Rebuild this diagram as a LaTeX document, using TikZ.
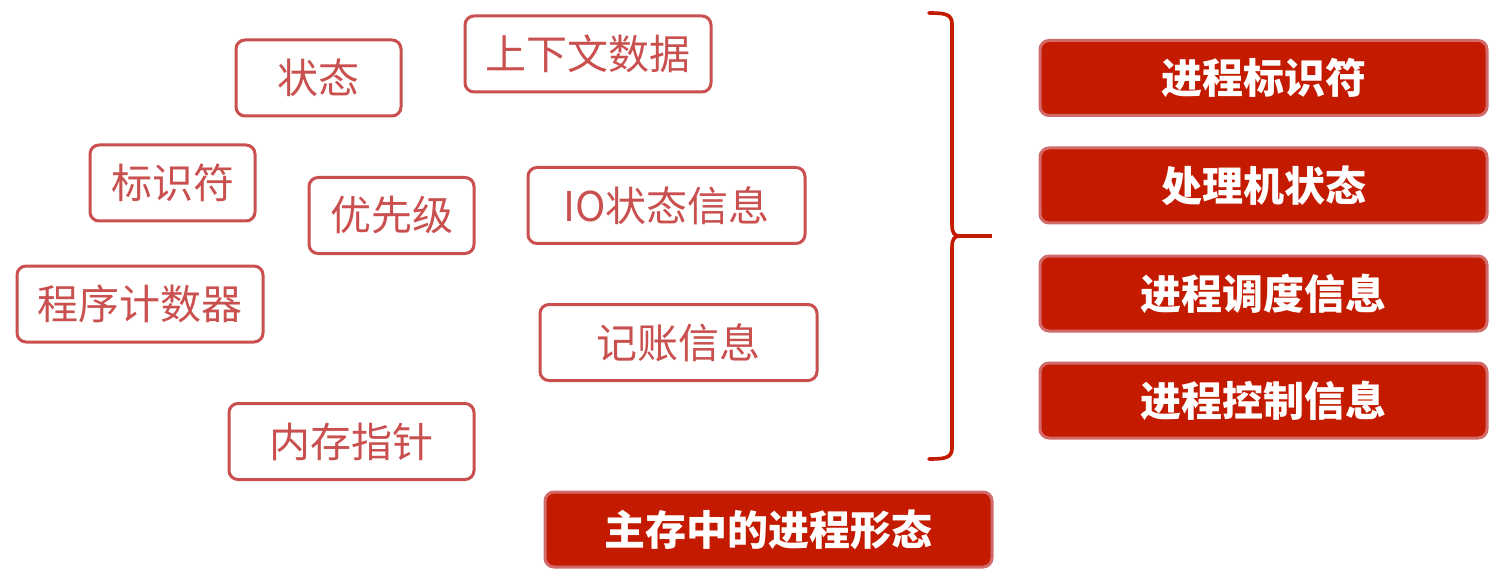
\documentclass[tikz,border=0pt]{standalone}
\usepackage{fontspec}
\newfontfamily\cjk{Noto Sans CJK SC}
\definecolor{lred}{HTML}{C9504E}
\definecolor{dred}{HTML}{C41A00}
\definecolor{bred}{HTML}{C8231A}
\begin{document}
\begin{tikzpicture}[x=0.5pt,y=-0.5pt,
  lbox/.style={draw=lred, line width=1.5pt, rounded corners=4.5pt, text=lred, font=\cjk\fontsize{20.5}{24}\selectfont, inner sep=0pt, minimum height=38pt},
  rbox/.style={draw=lred!85, fill=dred, line width=1.5pt, rounded corners=4.5pt, text=white, font=\cjk\bfseries\fontsize{20.5}{24}\selectfont, inner sep=0pt, minimum width=223.5pt, minimum height=37.5pt}]
\useasboundingbox (0,0) rectangle (1503,572);
\fill[white] (0,0) rectangle (1503,572);
% left boxes
\node[lbox, minimum width=82.5pt] (zt) at (318.5,78) {状态};
\node[lbox, minimum width=123pt] (sxw) at (588,54) {上下文数据};
\node[lbox, minimum width=82.5pt] (bsf) at (172.5,183) {标识符};
\node[lbox, minimum width=82.5pt] (yxj) at (391.5,215.5) {优先级};
\node[lbox, minimum width=138.5pt] (io) at (666.5,205.5) {IO状态信息};
\node[lbox, minimum width=123pt] (cx) at (140,304) {程序计数器};
\node[lbox, minimum width=138.5pt] (jz) at (678.5,342.5) {记账信息};
\node[lbox, minimum width=122.5pt] (nc) at (351.5,441.5) {内存指针};
% right boxes
\node[rbox] (r1) at (1263.5,78) {进程标识符};
\node[rbox] (r2) at (1263.5,185.5) {处理机状态};
\node[rbox] (r3) at (1263.5,293.5) {进程调度信息};
\node[rbox] (r4) at (1263.5,400.5) {进程控制信息};
\node[rbox] (bt) at (768.5,529.5) {主存中的进程形态};
% brace
\draw[dred, line width=1.8pt, line cap=round, line join=round]
  (929,13) .. controls (945,13) and (952,14) .. (952,24)
  -- (952,224) .. controls (952,233) and (954,236) .. (960,236)
  .. controls (954,236) and (952,239) .. (952,248)
  -- (952,448) .. controls (952,458) and (945,459) .. (929,459);
\draw[dred, line width=1.8pt] (958,236) -- (992,236);
\end{tikzpicture}
\end{document}
